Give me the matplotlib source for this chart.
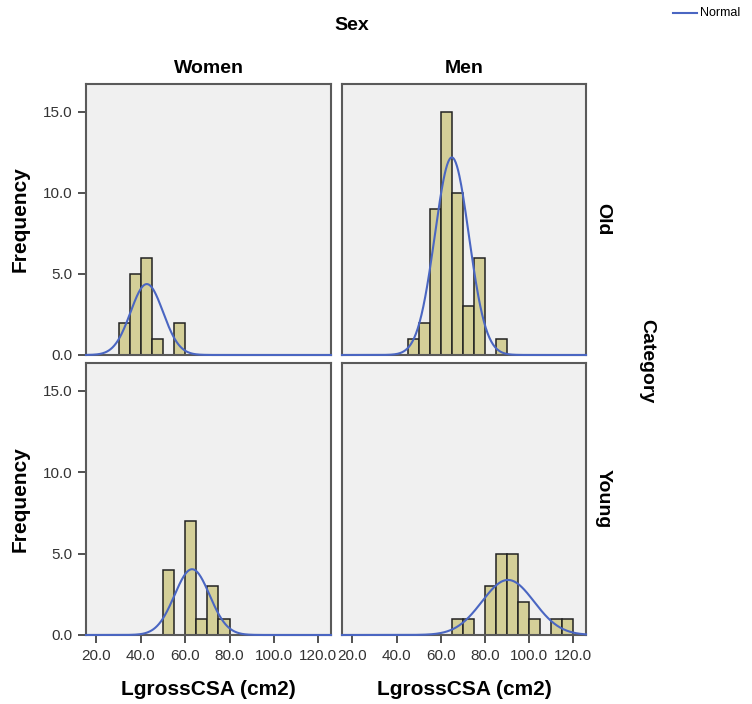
import numpy as np
import matplotlib
matplotlib.use('Agg')
from matplotlib import pyplot as plt
from matplotlib.lines import Line2D

plt.rcParams['font.family'] = ['Liberation Sans', 'DejaVu Sans']

# histogram data (bin width 5)
bin_width = 5
women_old_start = 30
women_old_counts = [2, 5, 6, 1, 0, 2]
men_old_start = 45
men_old_counts = [1, 2, 9, 15, 10, 3, 6, 0, 1]
women_young_start = 50
women_young_counts = [4, 0, 7, 1, 3, 1]
men_young_start = 65
men_young_counts = [1, 1, 0, 3, 5, 5, 2, 1, 0, 1, 1]

# fitted normal (mean, sd)
women_old_fit = (42.7, 7.3)
men_old_fit = (65.0, 7.7)
women_young_fit = (63.1, 7.9)
men_young_fit = (90.4, 11.8)

sexes = ['Women', 'Men']
categories = ['Old', 'Young']
x_ticks = [20, 40, 60, 80, 100, 120]
y_ticks = [0, 5, 10, 15]

panels = {
    ('Old', 'Women'): (women_old_start, women_old_counts, women_old_fit),
    ('Old', 'Men'): (men_old_start, men_old_counts, men_old_fit),
    ('Young', 'Women'): (women_young_start, women_young_counts, women_young_fit),
    ('Young', 'Men'): (men_young_start, men_young_counts, men_young_fit),
}

bar_color = '#D4CF98'
line_color = '#4A66C2'
bg = '#F0F0F0'
frame = '#5A5A5A'

fig = plt.figure(figsize=(7.52, 7.04), dpi=100)

col_x = [86 / 752, 342 / 752]
col_w = [245 / 752, 244 / 752]
row_y = [1 - 355 / 704, 1 - 635 / 704]
row_h = [271 / 704, 272 / 704]

xlim = (15.3, 125.7)
ylim = (0, 16.7)

for r, cat in enumerate(categories):
    for c, sex in enumerate(sexes):
        ax = fig.add_axes([col_x[c], row_y[r], col_w[c], row_h[r]])
        ax.set_facecolor(bg)
        start, counts, (mu, sd) = panels[(cat, sex)]
        lefts = start + bin_width * np.arange(len(counts))
        ax.bar(lefts, counts, width=bin_width, align='edge', color=bar_color,
               edgecolor='#222222', linewidth=1.1, zorder=2)
        xs = np.linspace(xlim[0], xlim[1], 400)
        n = sum(counts)
        ys = n * bin_width / (sd * np.sqrt(2 * np.pi)) * np.exp(-0.5 * ((xs - mu) / sd) ** 2)
        ax.plot(xs, ys, color=line_color, lw=1.5, zorder=5, clip_on=False)
        ax.set_xlim(*xlim)
        ax.set_ylim(*ylim)
        for s in ax.spines.values():
            s.set_color(frame)
            s.set_linewidth(1.5)
        ax.set_xticks(x_ticks)
        ax.set_yticks(y_ticks)
        ax.tick_params(direction='out', length=6, width=1.2, color='#333333',
                       labelsize=11, labelcolor='#333333', pad=4)
        if r == 1:
            ax.set_xticklabels(['%.1f' % v for v in x_ticks])
            ax.set_xlabel('LgrossCSA (cm2)', fontsize=15, fontweight='bold', labelpad=12)
        else:
            ax.tick_params(axis='x', length=0, labelbottom=False)
        if c == 0:
            ax.set_yticklabels(['%.1f' % v for v in y_ticks])
            ax.set_ylabel('Frequency', fontsize=15, fontweight='bold', labelpad=9)
        else:
            ax.tick_params(axis='y', length=0, labelleft=False)
        if r == 0:
            ax.set_title(sex, fontsize=14, fontweight='bold', pad=8)
        if c == 1:
            ax.text(1.07, 0.5, cat, transform=ax.transAxes, rotation=-90,
                    ha='center', va='center', fontsize=14, fontweight='bold')

fig.text(352 / 752, 1 - 25 / 704, 'Sex', ha='center', va='center',
         fontsize=14, fontweight='bold')
fig.text(647 / 752, 1 - 361 / 704, 'Category', ha='center', va='center',
         rotation=-90, fontsize=14, fontweight='bold')

# legend
fig.add_artist(Line2D([673 / 752, 697 / 752], [1 - 13 / 704, 1 - 13 / 704],
                      color=line_color, lw=1.5))
fig.text(700 / 752, 1 - 13 / 704, 'Normal', ha='left', va='center', fontsize=9)

fig.savefig('out.png', dpi=100)
